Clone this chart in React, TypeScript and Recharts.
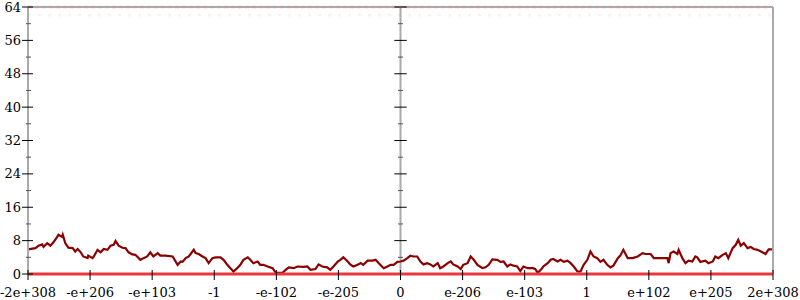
import { Line, LineChart, ReferenceLine, XAxis, YAxis } from "recharts";

document.body.style.margin = "0";

// x positions are in "tick steps" of the symlog-like axis (-6 .. 6)
const walkX = [
  -6, -5.88, -5.83, -5.77, -5.75, -5.69, -5.64, -5.59, -5.53, -5.51, -5.45, -5.44,
  -5.4, -5.35, -5.28, -5.24, -5.2, -5.15, -5.11, -5.04, -5.03, -4.96, -4.94, -4.88,
  -4.83, -4.78, -4.72, -4.67, -4.62, -4.59, -4.54, -4.48, -4.43, -4.38, -4.32, -4.27,
  -4.19, -4.14, -4.08, -4.03, -3.98, -3.91, -3.87, -3.79, -3.67, -3.59, -3.54, -3.51,
  -3.46, -3.41, -3.33, -3.3, -3.25, -3.19, -3.14, -3.09, -3.03, -2.98, -2.9, -2.85,
  -2.79, -2.74, -2.69, -2.63, -2.58, -2.53, -2.46, -2.42, -2.37, -2.3, -2.26, -2.21,
  -2.14, -2.06, -2.01, -1.9, -1.85, -1.8, -1.72, -1.66, -1.56, -1.5, -1.45, -1.37,
  -1.32, -1.26, -1.18, -1.13, -1.08, -1.01, -0.97, -0.92, -0.85, -0.81, -0.76, -0.69,
  -0.64, -0.6, -0.53, -0.45, -0.4, -0.35, -0.27, -0.21, -0.16, -0.11, -0.05, 0,
  0.05, 0.11, 0.16, 0.21, 0.27, 0.32, 0.37, 0.43, 0.48, 0.53, 0.6, 0.64,
  0.69, 0.76, 0.81, 0.85, 0.92, 0.97, 1.01, 1.08, 1.13, 1.18, 1.24, 1.32,
  1.37, 1.42, 1.48, 1.56, 1.61, 1.66, 1.72, 1.77, 1.82, 1.88, 1.93, 1.98,
  2.05, 2.13, 2.17, 2.21, 2.26, 2.3, 2.37, 2.42, 2.46, 2.53, 2.58, 2.63,
  2.69, 2.74, 2.79, 2.85, 2.9, 2.95, 3.01, 3.06, 3.11, 3.17, 3.22, 3.27,
  3.33, 3.38, 3.43, 3.5, 3.54, 3.59, 3.66, 3.74, 3.82, 3.9, 3.95, 4.03,
  4.08, 4.16, 4.3, 4.32, 4.35, 4.4, 4.46, 4.48, 4.54, 4.59, 4.64, 4.7,
  4.75, 4.78, 4.83, 4.91, 4.96, 5.03, 5.07, 5.12, 5.19, 5.24, 5.28, 5.35,
  5.4, 5.44, 5.48, 5.53, 5.59, 5.64, 5.69, 5.75, 5.83, 5.88, 5.93, 6,
];

const walkY = [
  5.9, 6.2, 6.8, 7.1, 6.5, 7.4, 6.8, 7.6, 8.9, 9.4, 8.9, 9.4,
  7.4, 6.3, 6.2, 5.4, 6.0, 5.2, 4.2, 3.8, 4.4, 3.8, 4.2, 5.8,
  5.2, 6.0, 5.8, 6.8, 7.0, 7.9, 6.8, 6.3, 6.2, 5.2, 4.7, 4.6,
  3.4, 3.8, 4.2, 5.2, 4.2, 5.0, 4.4, 4.4, 4.2, 2.2, 3.0, 2.9,
  3.8, 4.2, 5.8, 5.0, 4.8, 4.2, 3.8, 2.6, 3.8, 4.0, 4.0, 3.4,
  2.2, 1.4, 0.6, 1.4, 2.2, 3.4, 4.0, 3.4, 2.6, 3.0, 2.2, 2.2,
  1.8, 1.4, 0.3, 0.3, 1.0, 1.6, 1.4, 1.8, 1.7, 1.8, 1.0, 1.2,
  2.3, 1.8, 1.6, 1.0, 1.8, 3.0, 3.4, 4.0, 3.0, 2.3, 1.8, 2.2,
  2.6, 2.2, 3.2, 3.2, 3.4, 2.6, 1.4, 1.8, 2.2, 2.2, 2.9, 3.0,
  3.2, 3.8, 4.4, 4.2, 4.2, 3.0, 2.3, 2.6, 2.3, 1.8, 2.6, 1.4,
  1.8, 2.6, 3.0, 2.3, 1.8, 1.2, 2.2, 2.6, 4.2, 3.4, 2.2, 1.4,
  1.6, 2.2, 3.5, 3.4, 2.9, 3.0, 1.8, 2.3, 2.0, 1.8, 0.7, 1.8,
  1.4, 1.4, 1.2, 0.3, 1.0, 1.8, 2.6, 3.4, 3.6, 3.0, 3.4, 2.9,
  3.2, 2.6, 1.8, 0.6, 0.6, 2.2, 3.4, 5.4, 4.2, 3.8, 2.9, 3.4,
  2.2, 1.6, 2.0, 3.8, 4.4, 5.8, 3.8, 3.8, 4.2, 5.0, 4.8, 4.8,
  3.8, 3.8, 3.8, 2.6, 5.0, 5.4, 4.8, 5.8, 3.8, 2.6, 3.2, 3.0,
  4.2, 4.0, 2.9, 3.2, 2.6, 3.0, 4.2, 3.8, 4.6, 5.0, 3.8, 6.2,
  7.0, 8.2, 6.8, 7.4, 6.2, 6.5, 6.0, 5.8, 5.2, 4.8, 5.9, 5.9,
];

const xTickValues = [-6, -5, -4, -3, -2, -1, 0, 1, 2, 3, 4, 5, 6];
const xTickLabels = [
  "-2e+308", "-e+206", "-e+103", "-1", "-e-102", "-e-205", "0",
  "e-206", "e-103", "1", "e+102", "e+205", "2e+308",
];
const yMajorTicks = [0, 8, 16, 24, 32, 40, 48, 56, 64];
const yMinorTicks = [4, 12, 20, 28, 36, 44, 52, 60];

const data = walkX.map((x, i) => ({ x, y: walkY[i] }));
const yTicks = [...yMajorTicks, ...yMinorTicks].sort((a, b) => a - b);

const font = "DejaVu Serif";
const axisGray = "#aaaaaa";

function LeftTick({ x, y, payload }: any) {
  const major = payload.value % 8 === 0;
  return (
    <g>
      <line
        stroke={major ? "#000" : "#555"}
        x1={x - (major ? 6 : 2)}
        x2={x + (major ? 5 : 3)}
        y1={y}
        y2={y}
      />
      {major && (
        <text dy="0.35em" fill="#000" fontFamily={font} fontSize={13} textAnchor="end" x={x - 7} y={y}>
          {payload.value}
        </text>
      )}
    </g>
  );
}

function RightTick({ x, y, payload }: any) {
  const major = payload.value % 8 === 0;
  const half = major ? 6 : 3;
  return <line stroke={major ? "#000" : "#555"} x1={x - half} x2={x + half} y1={y} y2={y} />;
}

function BottomTick({ x, y, payload }: any) {
  const label = xTickLabels[xTickValues.indexOf(payload.value)];
  return (
    <g>
      <line stroke="#000" x1={x} x2={x} y1={y - 4} y2={y + 6} />
      <text fill="#000" fontFamily={font} fontSize={13} textAnchor="middle" x={x} y={y + 23}>
        {label}
      </text>
    </g>
  );
}

export default function App() {
  return (
    <LineChart
      data={data}
      height={300}
      margin={{ bottom: 0, left: 0, right: 0, top: 7 }}
      width={800}
    >
      <XAxis
        axisLine={false}
        dataKey="x"
        domain={[-6, 6]}
        height={26}
        interval={0}
        tick={<BottomTick />}
        tickLine={false}
        tickMargin={0}
        tickSize={0}
        ticks={xTickValues}
        type="number"
      />
      <YAxis
        axisLine={{ stroke: axisGray, strokeWidth: 2 }}
        domain={[0, 64]}
        interval={0}
        tick={<LeftTick />}
        tickLine={false}
        tickMargin={0}
        tickSize={0}
        ticks={yTicks}
        type="number"
        width={28}
        yAxisId="left"
      />
      <YAxis
        axisLine={{ stroke: axisGray, strokeWidth: 2 }}
        domain={[0, 64]}
        interval={0}
        orientation="right"
        tick={<RightTick />}
        tickLine={false}
        tickMargin={0}
        tickSize={0}
        ticks={yTicks}
        type="number"
        width={27}
        yAxisId="right"
      />
      <ReferenceLine stroke={axisGray} strokeWidth={2} y={64} yAxisId="left" />
      <ReferenceLine stroke={axisGray} strokeWidth={2} x={0} yAxisId="left" />
      {yTicks.map((v) => {
        const half = v % 8 === 0 ? 0.1 : 0.04;
        return (
          <ReferenceLine
            key={v}
            segment={[
              { x: -half, y: v },
              { x: half, y: v },
            ]}
            stroke={v % 8 === 0 ? "#000" : "#555"}
            yAxisId="left"
          />
        );
      })}
      <ReferenceLine stroke="#ff7070" strokeDasharray="4 3" strokeOpacity={0.12} strokeWidth={4} y={64} yAxisId="left" />
      <ReferenceLine stroke="#ff8a8a" strokeDasharray="3 7" strokeOpacity={0.12} strokeWidth={3} y={62.1} yAxisId="left" />
      <Line
        dataKey="y"
        dot={false}
        isAnimationActive={false}
        stroke="#8b0000"
        strokeWidth={2.2}
        type="linear"
        yAxisId="left"
      />
      <ReferenceLine stroke="#e8383d" strokeWidth={3} y={0} yAxisId="left" />
    </LineChart>
  );
}
